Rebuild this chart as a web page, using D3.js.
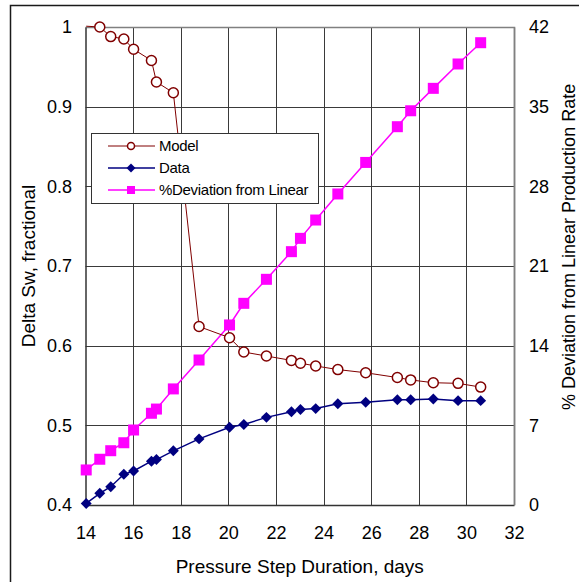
<!DOCTYPE html>
<html>
<head>
<meta charset="utf-8">
<script src="https://cdn.jsdelivr.net/npm/d3@7"></script>
<style>
  html, body { margin: 0; padding: 0; background: #fff; }
  svg { display: block; font-family: "Liberation Sans", Arial, sans-serif; }
</style>
</head>
<body>
<svg id="chart" width="579" height="582"></svg>
<script>
// Pressure step duration (days) shared by all three series
const days = [14.03, 14.6, 15.06, 15.61, 16.02, 16.77, 16.98, 17.69, 18.77, 20.05, 20.65,
              21.6, 22.65, 23.03, 23.67, 24.6, 25.77, 27.1, 27.66, 28.61, 29.65, 30.6];

// Delta Sw (fractional), left axis
const model = [1.001, 1.0, 0.988, 0.985, 0.972, 0.958, 0.931, 0.9175, 0.624, 0.610, 0.592,
               0.587, 0.5815, 0.578, 0.5745, 0.570, 0.566, 0.560, 0.557, 0.5535, 0.5527, 0.548];
const data = [0.402, 0.4147, 0.423, 0.4385, 0.4427, 0.455, 0.457, 0.468, 0.483, 0.4975, 0.501,
              0.510, 0.517, 0.520, 0.521, 0.527, 0.529, 0.532, 0.532, 0.533, 0.531, 0.531];

// % deviation from linear production rate, right axis
const deviation = [3.08, 4.02, 4.77, 5.47, 6.59, 8.06, 8.43, 10.2, 12.74, 15.82, 17.72,
                   19.83, 22.26, 23.43, 25.04, 27.33, 30.1, 33.24, 34.64, 36.61, 38.75, 40.62];

const xTicks = [14, 16, 18, 20, 22, 24, 26, 28, 30, 32];
const yLeftTicks = [0.4, 0.5, 0.6, 0.7, 0.8, 0.9, 1.0];
const yLeftLabels = ["0.4", "0.5", "0.6", "0.7", "0.8", "0.9", "1"];
const yRightTicks = [0, 7, 14, 21, 28, 35, 42];

const seriesNames = ["Model", "Data", "%Deviation from Linear"];
const xTitle = "Pressure Step Duration, days";
const yLeftTitle = "Delta Sw, fractional";
const yRightTitle = "% Deviation from Linear Production Rate";

const svg = d3.select("#chart");
const plot = { left: 85.5, right: 514, top: 27, bottom: 505 };

const x = d3.scaleLinear().domain([14, 32]).range([plot.left, plot.right]);
const yL = d3.scaleLinear().domain([0.4, 1.0]).range([plot.bottom, plot.top]);
const yR = d3.scaleLinear().domain([0, 42]).range([plot.bottom, plot.top]);

// outer chart frame
svg.append("rect")
  .attr("x", 10.5).attr("y", 5.5).attr("width", 620).attr("height", 620)
  .attr("fill", "#fff").attr("stroke", "#1a1a1a").attr("stroke-width", 1.5);

// plot area background
svg.append("rect")
  .attr("x", plot.left).attr("y", plot.top)
  .attr("width", plot.right - plot.left).attr("height", plot.bottom - plot.top)
  .attr("fill", "#fff");

// gridlines
const grid = svg.append("g").attr("stroke", "#3a3a3a").attr("stroke-width", 1);
grid.selectAll("line.v").data(xTicks.slice(1, -1)).join("line")
  .attr("x1", d => Math.round(x(d)) + 0.5).attr("x2", d => Math.round(x(d)) + 0.5)
  .attr("y1", plot.top).attr("y2", plot.bottom);
grid.selectAll("line.h").data(yLeftTicks.slice(1, -1)).join("line")
  .attr("x1", plot.left).attr("x2", plot.right)
  .attr("y1", d => Math.round(yL(d)) + 0.5).attr("y2", d => Math.round(yL(d)) + 0.5);

// plot border: top/right light, left/bottom dark
svg.append("path")
  .attr("d", `M${plot.left},${plot.top + 0.5}H${plot.right + 0.5}V${plot.bottom}`)
  .attr("fill", "none").attr("stroke", "#808080").attr("stroke-width", 1.5);

// axes
const axisFont = 18;
const gx = svg.append("g").attr("transform", `translate(0,${plot.bottom})`)
  .call(d3.axisBottom(x).tickValues(xTicks).tickFormat(d3.format("d"))
    .tickSizeInner(0).tickSizeOuter(0).tickPadding(21));
const gl = svg.append("g").attr("transform", `translate(${plot.left},0)`)
  .call(d3.axisLeft(yL).tickValues(yLeftTicks).tickFormat((d, i) => yLeftLabels[i])
    .tickSizeInner(0).tickSizeOuter(0).tickPadding(13.5));
const gr = svg.append("g").attr("transform", `translate(${plot.right},0)`)
  .call(d3.axisRight(yR).tickValues(yRightTicks).tickFormat(d3.format("d"))
    .tickSizeInner(0).tickSizeOuter(0).tickPadding(15));

[gx, gl, gr].forEach(g => {
  g.selectAll("text").attr("font-size", axisFont).attr("fill", "#000")
    .attr("font-family", "'Liberation Sans', Arial, sans-serif");
});
gx.select(".domain").attr("stroke", "#333").attr("stroke-width", 1.5);
gl.select(".domain").attr("stroke", "#333").attr("stroke-width", 1.5);
gr.select(".domain").attr("stroke", "#808080").attr("stroke-width", 1.5);

// axis titles
svg.append("text")
  .attr("x", (plot.left + plot.right) / 2).attr("y", 573)
  .attr("text-anchor", "middle").attr("font-size", 19).attr("fill", "#000")
  .text(xTitle);
svg.append("text")
  .attr("transform", `translate(35,${(plot.top + plot.bottom) / 2}) rotate(-90)`)
  .attr("text-anchor", "middle").attr("font-size", 19).attr("fill", "#000")
  .text(yLeftTitle);
svg.append("text")
  .attr("transform", `translate(575,410) rotate(-90)`)
  .attr("text-anchor", "start").attr("font-size", 18).attr("fill", "#000")
  .text(yRightTitle);

// series
const rows = days.map((d, i) => ({ x: d, m: model[i], s: data[i], p: deviation[i] }));

const colors = { model: "#800000", data: "#000080", dev: "#ff00ff" };

// % deviation (secondary axis)
const devLine = d3.line().x(d => x(d.x)).y(d => yR(d.p));
svg.append("path").datum(rows).attr("d", devLine)
  .attr("fill", "none").attr("stroke", colors.dev).attr("stroke-width", 1.5);
svg.append("g").selectAll("rect").data(rows).join("rect")
  .attr("x", d => x(d.x) - 5.5).attr("y", d => yR(d.p) - 5.5)
  .attr("width", 11).attr("height", 11).attr("fill", colors.dev);

// model
const modelLine = d3.line().x(d => x(d.x)).y(d => yL(d.m));
svg.append("path").datum(rows).attr("d", modelLine)
  .attr("fill", "none").attr("stroke", colors.model).attr("stroke-width", 1);
svg.append("g").selectAll("circle").data(rows.filter(d => d.m <= 1.0)).join("circle")
  .attr("cx", d => x(d.x)).attr("cy", d => yL(d.m)).attr("r", 5)
  .attr("fill", "#fff").attr("stroke", colors.model).attr("stroke-width", 1.5);

// measured data
const dataLine = d3.line().x(d => x(d.x)).y(d => yL(d.s));
svg.append("path").datum(rows).attr("d", dataLine)
  .attr("fill", "none").attr("stroke", colors.data).attr("stroke-width", 1.5);
svg.append("g").selectAll("path").data(rows).join("path")
  .attr("transform", d => `translate(${x(d.x)},${yL(d.s)}) rotate(45)`)
  .attr("d", d3.symbol().type(d3.symbolSquare).size(60)())
  .attr("fill", colors.data);

// legend
const legend = svg.append("g");
legend.append("rect")
  .attr("x", 91.5).attr("y", 133.5).attr("width", 227).attr("height", 70)
  .attr("fill", "#fff").attr("stroke", "#333").attr("stroke-width", 1);
const legendY = [146, 168, 190];
const legendColors = [colors.model, colors.data, colors.dev];
legendY.forEach((ly, i) => {
  legend.append("line").attr("x1", 108).attr("x2", 155).attr("y1", ly).attr("y2", ly)
    .attr("stroke", legendColors[i]).attr("stroke-width", i === 0 ? 1 : 1.5);
  legend.append("text").attr("x", 159).attr("y", ly).attr("dy", "0.35em")
    .attr("font-size", 15).attr("letter-spacing", -0.3).attr("fill", "#000")
    .text(seriesNames[i]);
});
legend.append("circle").attr("cx", 131).attr("cy", legendY[0]).attr("r", 3.5)
  .attr("fill", "#fff").attr("stroke", colors.model).attr("stroke-width", 1.5);
legend.append("path")
  .attr("transform", `translate(131,${legendY[1]}) rotate(45)`)
  .attr("d", d3.symbol().type(d3.symbolSquare).size(40)())
  .attr("fill", colors.data);
legend.append("rect").attr("x", 127).attr("y", legendY[2] - 4).attr("width", 8).attr("height", 8)
  .attr("fill", colors.dev);
</script>
</body>
</html>
